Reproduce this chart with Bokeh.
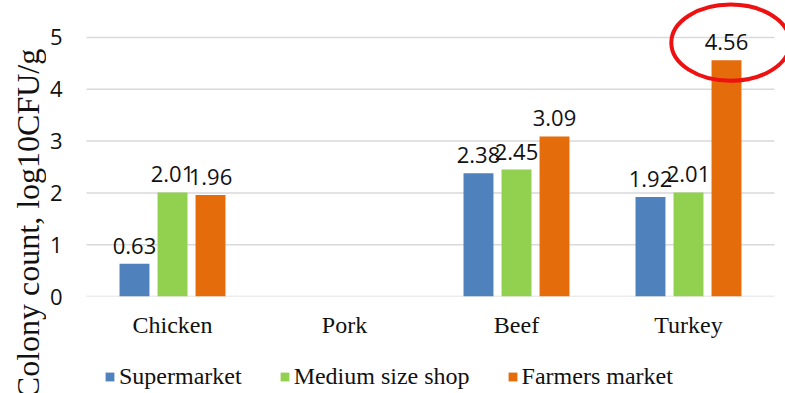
import math
from bokeh.plotting import figure
from bokeh.layouts import row, column
from bokeh.models import (ColumnDataSource, FactorRange, FixedTicker, Label,
                          Legend, LegendItem, Range1d)
from bokeh.transform import dodge
from bokeh.core.properties import value
from bokeh.embed import file_html
from bokeh.resources import INLINE

# ---- data ----
categories = ["Chicken", "Pork", "Beef", "Turkey"]
supermarket = [0.63, float("nan"), 2.38, 1.92]
medium_shop = [2.01, float("nan"), 2.45, 2.01]
farmers_market = [1.96, float("nan"), 3.09, 4.56]
series_names = ["Supermarket", "Medium size shop", "Farmers market"]
yticks = [0, 1, 2, 3, 4, 5]
y_title = "Colony count, log10CFU/g"
highlight_category = "Turkey"

colors = ["#4F81BD", "#92D050", "#E46C0A"]
offsets = [-0.221, 0.0, 0.221]
bar_w = 0.174
TITLE_W = 46
MAIN_H = 340
LEG_H = 393 - MAIN_H

def lbl(v):
    return "" if math.isnan(v) else f"{v:.2f}"

src = ColumnDataSource(dict(
    cat=categories,
    s0=supermarket, s1=medium_shop, s2=farmers_market,
    l0=[lbl(v) for v in supermarket],
    l1=[lbl(v) for v in medium_shop],
    l2=[lbl(v) for v in farmers_market],
))

def bare(width, height):
    f = figure(width=width, height=height, x_range=Range1d(0, 1),
               y_range=Range1d(0, 1), output_backend="svg",
               toolbar_location=None, x_axis_location=None,
               y_axis_location=None, min_border_left=0, min_border_right=0,
               min_border_top=0, min_border_bottom=0)
    f.outline_line_color = None
    f.grid.visible = False
    return f

# ---- narrow figure carrying the vertical axis title ----
pt = bare(TITLE_W, 393)
pt.add_layout(Label(x=27, y=170, x_units="screen", y_units="screen",
                    text=y_title, angle=math.pi / 2, text_align="center",
                    text_baseline="middle", text_font="Liberation Serif",
                    text_font_size="32px", text_color="#111111"))

# ---- main chart ----
xr = FactorRange(*categories, range_padding=0.064, range_padding_units="absolute")
p = figure(width=785 - TITLE_W, height=MAIN_H, x_range=xr, y_range=(0, 5.714),
           output_backend="svg", toolbar_location=None,
           min_border_left=75 - TITLE_W, min_border_right=0, min_border_top=0,
           min_border_bottom=MAIN_H - 296)
p.outline_line_color = None
p.xgrid.visible = False
p.ygrid.visible = False

# gridlines spanning the category area
gsrc = ColumnDataSource(dict(y=yticks, x0=[categories[0]] * len(yticks),
                             x1=[categories[-1]] * len(yticks)))
p.segment(x0=dodge("x0", -0.5, range=p.x_range), y0="y",
          x1=dodge("x1", 0.5, range=p.x_range), y1="y",
          source=gsrc, line_color="#D9D9D9", line_width=1.5)

for i, (name, col, off) in enumerate(zip(series_names, colors, offsets)):
    p.vbar(x=dodge("cat", off, range=p.x_range), top=f"s{i}", width=bar_w,
           source=src, fill_color=col, line_color=None)
    p.text(x=dodge("cat", off, range=p.x_range), y=f"s{i}", text=f"l{i}",
           source=src, text_align="center", text_baseline="alphabetic",
           y_offset=-18, text_font=value("Open Sans"),
           text_font_size="22px", text_color="#111111")

# highlight ellipse around the top value
hsrc = ColumnDataSource(dict(cat=[highlight_category], y=[4.90]))
p.ellipse(x=dodge("cat", 0.245, range=p.x_range), y="y", width=0.69,
          height=1.47, source=hsrc, fill_color=None, line_color="#EE1111",
          line_width=4)

# axes
p.yaxis.ticker = FixedTicker(ticks=yticks)
p.yaxis.axis_line_color = None
p.yaxis.major_tick_line_color = None
p.yaxis.minor_tick_line_color = None
p.yaxis.major_tick_out = 0
p.yaxis.major_label_standoff = 13
p.yaxis.major_label_text_font = "Open Sans"
p.yaxis.major_label_text_font_size = "22px"
p.yaxis.major_label_text_color = "#111111"

p.xaxis.axis_line_color = None
p.xaxis.major_tick_line_color = None
p.xaxis.major_tick_out = 0
p.xaxis.major_label_standoff = 15
p.xaxis.major_label_text_font = "Liberation Serif"
p.xaxis.major_label_text_font_size = "24px"
p.xaxis.major_label_text_color = "#111111"

# ---- legend strip (zero-size proxy glyphs carry the swatch colours) ----
pl = bare(785 - TITLE_W, LEG_H)
items = []
for name, col in zip(series_names, colors):
    r = pl.vbar(x=[0.5], top=[0.0], width=0.0, fill_color=col, line_color=None)
    items.append(LegendItem(label=name, renderers=[r]))
legend = Legend(items=items, orientation="horizontal", location=(29, 3),
                glyph_width=11, glyph_height=11, label_standoff=4, spacing=37,
                padding=0, margin=0, border_line_color=None,
                background_fill_alpha=0, label_height=24,
                label_text_font="Liberation Serif", label_text_font_size="24px",
                label_text_color="#111111")
pl.add_layout(legend, "center")

layout = row(pt, column(p, pl, spacing=0), spacing=0)
open("out.html", "w").write(file_html(layout, INLINE))
